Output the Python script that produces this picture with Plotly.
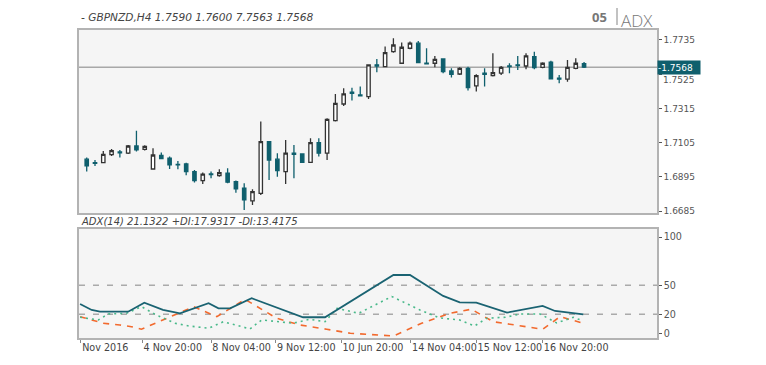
import plotly.graph_objects as go

# ---------------- data ----------------
candle_idx = list(range(61))
opens = [1.7003, 1.6982, 1.6982, 1.7031, 1.7048, 1.7040, 1.7084, 1.7064, 1.6943, 1.7027,
         1.7009, 1.6972, 1.6974, 1.6927, 1.6872, 1.6913, 1.6902, 1.6917, 1.6866, 1.6825,
         1.6747, 1.6794, 1.7111, 1.7003, 1.6927, 1.7040, 1.7035, 1.6984, 1.7105, 1.7040,
         1.7240, 1.7342, 1.7414, 1.7397, 1.7387, 1.7582, 1.7571, 1.7663, 1.7592, 1.7684,
         1.7715, 1.7592, 1.7592, 1.7618, 1.7545, 1.7526, 1.7561, 1.7453, 1.7531, 1.7516,
         1.7531, 1.7575, 1.7582, 1.7575, 1.7633, 1.7567, 1.7598, 1.7500, 1.7494, 1.7561,
         1.7590]
highs = [1.7013, 1.6998, 1.7054, 1.7066, 1.7060, 1.7091, 1.7177, 1.7089, 1.7070, 1.7044,
         1.7019, 1.6992, 1.6982, 1.6937, 1.6921, 1.6927, 1.6941, 1.6947, 1.6872, 1.6855,
         1.6818, 1.7234, 1.7115, 1.7040, 1.7121, 1.7091, 1.7040, 1.7131, 1.7131, 1.7254,
         1.7404, 1.7438, 1.7442, 1.7449, 1.7585, 1.7618, 1.7694, 1.7745, 1.7719, 1.7725,
         1.7729, 1.7684, 1.7637, 1.7622, 1.7561, 1.7567, 1.7571, 1.7524, 1.7561, 1.7653,
         1.7575, 1.7592, 1.7637, 1.7653, 1.7663, 1.7598, 1.7608, 1.7520, 1.7612, 1.7622,
         1.7600]
lows = [1.6927, 1.6962, 1.6978, 1.7023, 1.7013, 1.7035, 1.7050, 1.7056, 1.6941, 1.7003,
        1.6943, 1.6941, 1.6904, 1.6860, 1.6851, 1.6886, 1.6896, 1.6855, 1.6798, 1.6692,
        1.6722, 1.6784, 1.6876, 1.6896, 1.6851, 1.6886, 1.6982, 1.6982, 1.7019, 1.6998,
        1.7234, 1.7330, 1.7363, 1.7391, 1.7373, 1.7537, 1.7567, 1.7657, 1.7588, 1.7678,
        1.7592, 1.7585, 1.7567, 1.7531, 1.7504, 1.7520, 1.7424, 1.7418, 1.7449, 1.7510,
        1.7520, 1.7531, 1.7551, 1.7555, 1.7555, 1.7561, 1.7494, 1.7469, 1.7479, 1.7555,
        1.7563]
closes = [1.6962, 1.6978, 1.7033, 1.7056, 1.7042, 1.7084, 1.7060, 1.7082, 1.7029, 1.7007,
          1.6968, 1.6968, 1.6927, 1.6872, 1.6911, 1.6908, 1.6921, 1.6862, 1.6821, 1.6753,
          1.6804, 1.7111, 1.6998, 1.6933, 1.7040, 1.7033, 1.6984, 1.7105, 1.7040, 1.7248,
          1.7346, 1.7404, 1.7408, 1.7392, 1.7582, 1.7575, 1.7657, 1.7704, 1.7690, 1.7715,
          1.7596, 1.7588, 1.7616, 1.7541, 1.7524, 1.7561, 1.7442, 1.7516, 1.7524, 1.7535,
          1.7567, 1.7571, 1.7577, 1.7637, 1.7565, 1.7592, 1.7496, 1.7494, 1.7567, 1.7592,
          1.7568]
last_price = 1.7568

adx_x = [-0.8, 0.6, 1.6, 5.0, 6.95, 9.2, 11.25, 14.7, 15.9, 17.3, 19.9, 26.1, 28.75,
         37.0, 39.0, 43.0, 45.0, 47.0, 50.7, 55.0, 56.5, 59.9]
adx_v = [30.6, 24.4, 22.6, 22.6, 31.9, 24.4, 20.9, 31.3, 26.1, 26.1, 36.5, 16.8, 16.8,
         60.6, 60.6, 38.9, 32.3, 31.9, 21.6, 28.5, 23.3, 19.9]
pdi_x = [-0.8, 1.4, 2.6, 4.8, 6.6, 8.4, 10.65, 12.3, 14.7, 16.5, 19.7, 21.1, 24.9, 26.9,
         28.75, 30.2, 32.8, 36.8, 40.2, 42.6, 45.0, 46.8, 48.25, 50.5, 52.3, 54.7, 56.7,
         58.7, 59.9]
pdi_v = [16.8, 14.0, 20.2, 20.9, 27.8, 19.2, 10.6, 7.8, 5.4, 12.2, 4.7, 14.0, 10.6, 14.7,
         12.2, 26.1, 20.9, 38.3, 24.4, 16.1, 14.0, 7.8, 15.8, 16.8, 20.2, 20.2, 10.9,
         16.8, 13.0]
mdi_x = [-0.8, 2.0, 4.0, 5.4, 6.6, 9.65, 12.9, 15.7, 19.1, 22.9, 25.7, 28.95, 31.8, 37.0,
         39.0, 40.4, 43.8, 46.4, 49.05, 51.9, 55.0, 57.1, 59.9]
mdi_v = [17.4, 10.6, 8.8, 7.0, 4.4, 15.8, 27.8, 17.4, 35.4, 15.8, 8.8, 4.4, 0.2, -2.6,
         5.4, 10.6, 20.9, 25.1, 12.2, 8.8, 4.4, 17.4, 10.6]

price_ticks = [1.6685, 1.6895, 1.7105, 1.7315, 1.7525, 1.7735]
adx_ticks = [0, 20, 50, 100]
adx_levels = [20, 50]
time_tick_pos = [-0.7, 6.7, 15, 22.8, 30.7, 39.1, 47, 55]
time_tick_text = ["Nov 2016", "4 Nov 20:00", "8 Nov 04:00", "9 Nov 12:00",
                  "10 Jun 20:00", "14 Nov 04:00", "15 Nov 12:00", "16 Nov 20:00"]

header_text = "- GBPNZD,H4 1.7590 1.7600 7.7563 1.7568"
adx_header = "ADX(14) 21.1322 +DI:17.9317 -DI:13.4175"

# ---------------- style ----------------
TEAL = "#0f5f6d"
FONT = "DejaVu Sans"
W, H = 766, 365
OFF = 8  # page body margin of the html page
XL, XR = 79 - OFF, 657 - OFF
TOP1, BOT1 = 30 - OFF, 213 - OFF
TOP2, BOT2 = 229 - OFF, 338 - OFF

def px(p):
    return (p - OFF) / W

def py(p):
    return 1 - (p - OFF) / H

fig = go.Figure()
fig.add_trace(go.Candlestick(
    x=candle_idx, open=opens, high=highs, low=lows, close=closes,
    xaxis="x", yaxis="y", whiskerwidth=0,
    increasing=dict(line=dict(color="#333333", width=1.3), fillcolor="#ffffff"),
    decreasing=dict(line=dict(color=TEAL, width=1.3), fillcolor=TEAL),
    showlegend=False, hoverinfo="skip"))

fig.add_trace(go.Scatter(x=mdi_x, y=mdi_v, mode="lines", xaxis="x2", yaxis="y2",
                         line=dict(color="#f26a2e", width=1.6, dash="6px,6px"),
                         showlegend=False, hoverinfo="skip"))
fig.add_trace(go.Scatter(x=pdi_x, y=pdi_v, mode="lines", xaxis="x2", yaxis="y2",
                         line=dict(color="#49b98a", width=1.6, dash="2px,4px"),
                         showlegend=False, hoverinfo="skip"))
fig.add_trace(go.Scatter(x=adx_x, y=adx_v, mode="lines", xaxis="x2", yaxis="y2",
                         line=dict(color="#1a6372", width=1.8),
                         showlegend=False, hoverinfo="skip"))

xr = [-0.93, 68.8]
axis_common = dict(showgrid=False, zeroline=False, showline=True, mirror=True,
                   linecolor="#b3b3b3", linewidth=1.5, automargin=False)

fig.update_layout(
    width=W, height=H, margin=dict(l=0, r=0, t=0, b=0, autoexpand=False),
    paper_bgcolor="#ffffff", plot_bgcolor="#f5f5f5",
    font=dict(family=FONT, color="#444444", size=10),
    boxgap=0.42,
    xaxis=dict(domain=[XL / W, XR / W], range=xr, anchor="y", showticklabels=False,
               ticks="", rangeslider=dict(visible=False), **axis_common),
    yaxis=dict(domain=[1 - BOT1 / H, 1 - TOP1 / H], range=[1.6673, 1.7796], side="right",
               anchor="x", tickvals=price_ticks,
               ticktext=["" if v == 1.7525 else f"{v:.4f}" for v in price_ticks],
               ticks="outside", ticklen=3, tickcolor="#555555",
               tickfont=dict(family=FONT, size=9, color="#555555"), **axis_common),
    xaxis2=dict(domain=[XL / W, XR / W], range=xr, anchor="y2",
                tickvals=time_tick_pos, ticktext=time_tick_text,
                ticklabelposition="outside right", tickangle=0,
                ticks="outside", ticklen=3, tickcolor="#888888",
                tickfont=dict(family=FONT, size=9.6, color="#444444"), **axis_common),
    yaxis2=dict(domain=[1 - BOT2 / H, 1 - TOP2 / H], range=[-4.7, 108.3], side="right",
                anchor="x2", tickvals=adx_ticks,
                ticktext=[str(v) for v in adx_ticks],
                ticks="outside", ticklen=3, tickcolor="#555555",
                tickfont=dict(family=FONT, size=9.6, color="#555555"), **axis_common),
)

shapes = []
for lv in adx_levels:
    shapes.append(dict(type="line", xref="x2 domain", x0=0, x1=1, yref="y2", y0=lv, y1=lv,
                       line=dict(color="#aaaaaa", width=1.5, dash="6px,8px"), layer="below"))
shapes.append(dict(type="line", xref="x domain", x0=0, x1=1, yref="y", y0=last_price,
                   y1=last_price, line=dict(color="#a8a8a8", width=1.5), layer="below"))
# separator bar in title
shapes.append(dict(type="line", xref="paper", yref="paper", x0=px(617), x1=px(617),
                   y0=py(25), y1=py(8), line=dict(color="#999999", width=1.2)))
fig.update_layout(shapes=shapes)

annotations = [
    dict(text=header_text, xref="paper", yref="paper", x=px(79), y=py(17),
         xanchor="left", yanchor="middle", showarrow=False,
         font=dict(family=FONT, size=10.6, color="#444444", style="italic")),
    dict(text=adx_header, xref="paper", yref="paper", x=px(79), y=py(221.5),
         xanchor="left", yanchor="middle", showarrow=False,
         font=dict(family=FONT, size=10, color="#444444", style="italic")),
    dict(text="<b>05</b>", xref="paper", yref="paper", x=px(609), y=py(17),
         xanchor="right", yanchor="middle", showarrow=False,
         font=dict(family="Open Sans", size=13, color="#777777")),
    dict(text="ADX", xref="paper", yref="paper", x=px(620), y=py(8),
         xanchor="left", yanchor="top", showarrow=False, borderpad=0,
         font=dict(family="Open Sans", size=17, color="#777777", weight=300)),
    # 1.7525 tick label nudged below the last-price badge, as in the original
    dict(text="1.7525", xref="paper", yref="y", x=px(661), y=1.7525, yshift=-6,
         xanchor="left", yanchor="middle", showarrow=False,
         font=dict(family=FONT, size=9, color="#555555")),
    dict(text="-" + f"{last_price:.4f}", xref="paper", yref="y", x=XR / W, y=last_price,
         xanchor="left", yanchor="middle", showarrow=False, bgcolor=TEAL,
         borderpad=0, width=42, height=13, align="left",
         font=dict(family=FONT, size=9, color="#ffffff")),
]
fig.update_layout(annotations=annotations)

fig.write_html("out.html")
